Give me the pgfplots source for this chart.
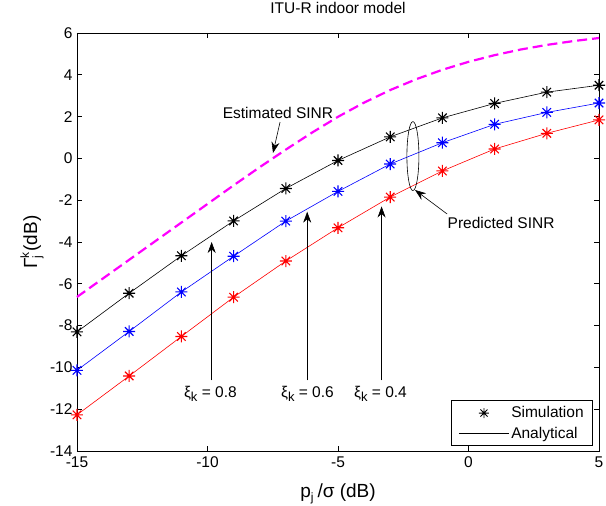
\documentclass[border=0pt]{standalone}
\usepackage{pgfplots}
\pgfplotsset{compat=1.18}
\usepackage{fontspec}
\setmainfont{Liberation Sans}
\usetikzlibrary{arrows.meta}
\pgfdeclareplotmark{mstar}{%
 \pgfpathmoveto{\pgfqpoint{-\pgfplotmarksize}{0pt}}\pgfpathlineto{\pgfqpoint{\pgfplotmarksize}{0pt}}%
 \pgfpathmoveto{\pgfqpoint{0pt}{-\pgfplotmarksize}}\pgfpathlineto{\pgfqpoint{0pt}{\pgfplotmarksize}}%
 \pgfpathmoveto{\pgfqpoint{-.7071\pgfplotmarksize}{-.7071\pgfplotmarksize}}\pgfpathlineto{\pgfqpoint{.7071\pgfplotmarksize}{.7071\pgfplotmarksize}}%
 \pgfpathmoveto{\pgfqpoint{-.7071\pgfplotmarksize}{.7071\pgfplotmarksize}}\pgfpathlineto{\pgfqpoint{.7071\pgfplotmarksize}{-.7071\pgfplotmarksize}}%
 \pgfusepathqstroke}
\newcommand{\fs}{\fontsize{15.5bp}{18bp}\selectfont}
\newcommand{\fl}{\fontsize{19bp}{22bp}\selectfont}
\definecolor{mred}{RGB}{255,0,0}
\definecolor{mblue}{RGB}{0,0,255}
\definecolor{mmag}{RGB}{255,0,255}
\pgfplotstableread{
x black blue red
-15 -8.30 -10.14 -12.27
-13 -6.45 -8.28 -10.41
-11 -4.66 -6.39 -8.52
-9 -2.99 -4.68 -6.64
-7 -1.44 -3.00 -4.91
-5 -0.10 -1.58 -3.32
-3 1.03 -0.27 -1.85
-1 1.94 0.75 -0.60
1 2.63 1.63 0.45
3 3.17 2.20 1.20
5 3.50 2.65 1.84
}\simdata
\pgfplotstableread{
x y
-15 -6.63
-14 -5.74
-13 -4.85
-12 -3.96
-11 -3.07
-10 -2.18
-9 -1.29
-8 -0.42
-7 0.42
-6 1.23
-5 1.99
-4 2.67
-3 3.27
-2 3.79
-1 4.24
0 4.62
1 4.94
2 5.21
3 5.43
4 5.61
5 5.76
}\estdata
\begin{document}
\begin{tikzpicture}
\useasboundingbox (-77bp,-55bp) rectangle (529bp,451bp);
\begin{axis}[at={(0,0)}, anchor=south west, scale only axis,
 width=522bp, height=418bp,
 xmin=-15, xmax=5, ymin=-14, ymax=6,
 xtick={-15,-10,-5,0,5}, ytick={-14,-12,-10,-8,-6,-4,-2,0,2,4,6},
 tick align=inside, major tick length=5bp,
 axis line style={line width=0.7bp}, every tick/.style={black, line width=0.7bp},
 /pgf/number format/assume math mode=true,
 ticklabel style={font=\fs},
 xticklabel style={anchor=base, yshift=-16bp},
 yticklabel style={anchor=east, xshift=-1bp},
 title={ITU-R indoor model},
 title style={font=\fs, at={(axis description cs:0.5,1)}, anchor=base, yshift=13.5bp},
 xlabel={p\raisebox{-4bp}{\fontsize{12bp}{12bp}\selectfont j}\hspace{4bp}/σ (dB)},
 xlabel style={font=\fl, at={(axis description cs:0.5,0)}, anchor=base, yshift=-46bp},
 ylabel={Γ{\fontsize{12bp}{12bp}\selectfont\raisebox{8bp}{\rlap{k}}\raisebox{-4bp}{j}}\hspace{4bp}(dB)},
 ylabel style={font=\fl, at={(axis description cs:-0.0766,0.5)}, anchor=base, rotate=0},
 clip=false,
 legend image code/.code={\draw[mark repeat=2,mark phase=2,#1] plot coordinates {(0bp,0bp) (25bp,0bp) (50bp,0bp)};},
 legend style={at={(axis description cs:0.9885,0.012)}, anchor=south east, draw=black, line width=0.7bp, fill=white, font=\fs, inner xsep=7bp, inner ysep=4bp, row sep=3.5bp, cells={anchor=west}},
]
\addlegendimage{black, only marks, mark=mstar, mark size=5bp, line width=0.9bp}
\addlegendimage{black, line width=0.6bp}
\legend{Simulation, Analytical}
\addplot[mmag, line width=2.2bp, dash pattern=on 10bp off 5bp, forget plot] table[x=x,y=y] {\estdata};
\addplot[black, line width=0.6bp, forget plot] table[x=x,y=black] {\simdata};
\addplot[mblue, line width=0.6bp, forget plot] table[x=x,y=blue] {\simdata};
\addplot[mred, line width=0.6bp, forget plot] table[x=x,y=red] {\simdata};
\addplot[black, only marks, mark=mstar, mark size=6bp, line width=1.1bp, forget plot] table[x=x,y=black] {\simdata};
\addplot[mblue, only marks, mark=mstar, mark size=6bp, line width=1.1bp, forget plot] table[x=x,y=blue] {\simdata};
\addplot[mred, only marks, mark=mstar, mark size=6bp, line width=1.1bp, forget plot] table[x=x,y=red] {\simdata};
% annotations
\draw[line width=0.6bp, -{Stealth[length=11bp,width=8bp]}] (axis cs:-9.84,-10.62) -- (axis cs:-9.84,-4.0);
\draw[line width=0.6bp, -{Stealth[length=11bp,width=8bp]}] (axis cs:-6.18,-10.62) -- (axis cs:-6.18,-2.55);
\draw[line width=0.6bp, -{Stealth[length=11bp,width=8bp]}] (axis cs:-3.33,-10.62) -- (axis cs:-3.33,-2.3);
\node[font=\fs] at (axis cs:-9.89,-11.25) {ξ\raisebox{-4bp}{\fontsize{13bp}{13bp}\selectfont k} = 0.8};
\node[font=\fs] at (axis cs:-6.17,-11.25) {ξ\raisebox{-4bp}{\fontsize{13bp}{13bp}\selectfont k} = 0.6};
\node[font=\fs] at (axis cs:-3.37,-11.25) {ξ\raisebox{-4bp}{\fontsize{13bp}{13bp}\selectfont k} = 0.4};
\node[font=\fs] at (axis cs:-7.3,2.17) {Estimated SINR};
\draw[line width=0.6bp, -{Stealth[length=11bp,width=8bp]}] (axis cs:-7.22,1.74) -- (axis cs:-7.49,0.26);
\node[font=\fs] at (axis cs:1.25,-3.1) {Predicted SINR};
\draw[line width=0.6bp, -{Stealth[length=11bp,width=8bp]}] (axis cs:-0.82,-2.66) -- (axis cs:-2.05,-1.51);
\draw[line width=0.6bp] (axis cs:-2.13,0.11) ellipse [x radius=6bp, y radius=34.5bp];
\end{axis}
\end{tikzpicture}
\end{document}
